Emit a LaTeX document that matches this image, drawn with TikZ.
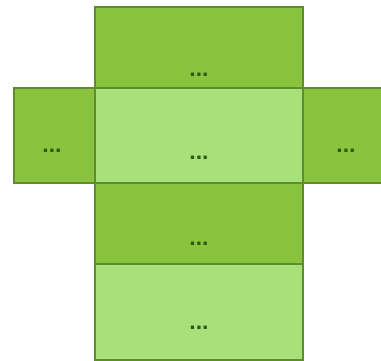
\documentclass[tikz,border=0pt]{standalone}
\usepackage{fontspec}
\setsansfont{Liberation Sans}
\definecolor{darkleaf}{HTML}{8AC43E}
\definecolor{lightleaf}{HTML}{A8E07A}
\definecolor{leafline}{HTML}{5F8C2E}
\definecolor{dotgreen}{HTML}{2F5A14}
\tikzset{
  face/.style={draw=leafline, line width=1.2pt},
  dots/.style={text=dotgreen, font=\sffamily\bfseries\fontsize{23}{23}\selectfont, inner sep=0pt, anchor=base}
}
\begin{document}
\begin{tikzpicture}[x=1pt,y=-1pt]
  \useasboundingbox (0,0) rectangle (381,361);
  \fill[white] (0,0) rectangle (381,361);
  \draw[face, fill=darkleaf] (95,7) rectangle (303,88);
  \draw[face, fill=darkleaf] (14,88) rectangle (95,183);
  \draw[face, fill=darkleaf] (303,88) rectangle (383,183);
  \draw[face, fill=lightleaf] (95,88) rectangle (303,183);
  \draw[face, fill=darkleaf] (95,183) rectangle (303,264);
  \draw[face, fill=lightleaf] (95,264) rectangle (303,360);
  \node[dots] (lid) at (199,77) {...};
  \node[dots] (flapl) at (52,153) {...};
  \node[dots] (face) at (199,160) {...};
  \node[dots] (flapr) at (346,153) {...};
  \node[dots] (back) at (199,245) {...};
  \node[dots] (base) at (199,330) {...};
\end{tikzpicture}
\end{document}
